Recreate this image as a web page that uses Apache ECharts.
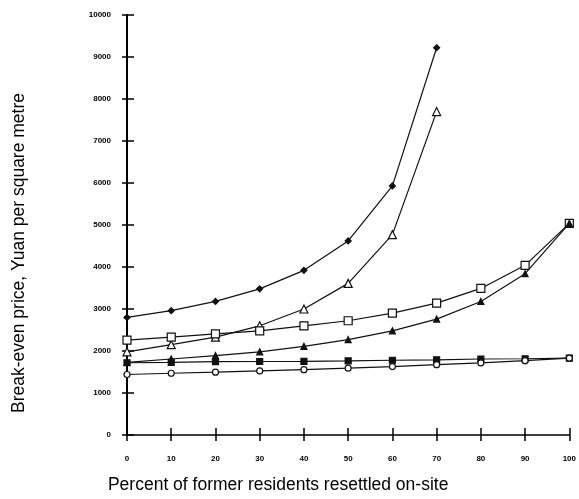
<!DOCTYPE html>
<html>
<head>
<meta charset="utf-8">
<script src="https://cdn.jsdelivr.net/npm/echarts@6/dist/echarts.min.js"></script>
<style>
  html, body { margin: 0; padding: 0; background: #fff; }
  #main { width: 579px; height: 499px; }
</style>
</head>
<body>
<div id="main"></div>
<script>
// percent resettled on-site
var percents = [0, 10, 20, 30, 40, 50, 60, 70, 80, 90, 100];

// break-even price, yuan per m2
var filledDiamond = [2800, 2960, 3180, 3480, 3920, 4620, 5930, 9220];
var openTriangle = [1980, 2150, 2330, 2600, 3000, 3610, 4770, 7700];
var openSquare = [2260, 2330, 2410, 2480, 2600, 2720, 2900, 3140, 3490, 4040, 5040];
var filledTriangle = [1730, 1810, 1890, 1980, 2110, 2270, 2480, 2760, 3180, 3840, 5040];
var filledSquare = [1720, 1730, 1745, 1750, 1755, 1765, 1780, 1790, 1810, 1815, 1830];
var openCircle = [1440, 1470, 1495, 1525, 1555, 1590, 1630, 1675, 1715, 1770, 1830];

var font = 'Liberation Sans';

function pairs(vals) {
    var out = [];
    for (var i = 0; i < vals.length; i++) {
        out.push([percents[i], vals[i]]);
    }
    return out;
}

function line(data, symbol, size, filled) {
    return {
        type: 'line',
        data: pairs(data),
        symbol: symbol,
        symbolSize: size,
        showSymbol: true,
        xAxisIndex: 0,
        yAxisIndex: 0,
        lineStyle: { color: '#111', width: 1.2 },
        itemStyle: {
            color: filled ? '#111' : '#fff',
            borderColor: '#111',
            borderWidth: 1.2
        },
        emphasis: { disabled: true },
        z: 3
    };
}

var tickLabel = {
    fontFamily: font, fontSize: 8, fontWeight: 'bold', color: '#000',
    formatter: function (v) { return String(v); }
};

var option = {
    animation: false,
    backgroundColor: '#fff',
    grid: { left: 127, right: 9, top: 15, bottom: 62 },
    xAxis: [
        {
            type: 'value', min: 0, max: 100, interval: 10,
            axisLine: { lineStyle: { color: '#000', width: 1.5 } },
            axisTick: { length: 6, lineStyle: { color: '#000', width: 1.5 } },
            axisLabel: Object.assign({ margin: 20 }, tickLabel),
            splitLine: { show: false },
            name: 'Percent of former residents resettled on-site',
            nameLocation: 'middle',
            nameGap: 41,
            nameTextStyle: { fontFamily: font, fontSize: 17.5, color: '#000', padding: [0, 140, 0, 0] }
        },
        {
            type: 'value', min: 0, max: 100, interval: 10, position: 'bottom',
            axisLine: { show: false },
            axisTick: { inside: true, length: 7, lineStyle: { color: '#000', width: 1.5 } },
            axisLabel: { show: false },
            splitLine: { show: false }
        }
    ],
    yAxis: [
        {
            type: 'value', min: 0, max: 10000, interval: 1000,
            axisLine: { show: true, lineStyle: { color: '#000', width: 2 } },
            axisTick: { show: true, length: 5, lineStyle: { color: '#000', width: 1.5 } },
            axisLabel: Object.assign({ margin: 16 }, tickLabel),
            splitLine: { show: false },
            name: 'Break-even price, Yuan per square metre',
            nameLocation: 'middle',
            nameGap: 99,
            nameTextStyle: { fontFamily: font, fontSize: 17.5, color: '#000', padding: [0, 56, 0, 0] }
        },
        {
            type: 'value', min: 0, max: 10000, interval: 1000, position: 'left',
            axisLine: { show: false },
            axisTick: { show: true, inside: true, length: 7, lineStyle: { color: '#000', width: 1.5 } },
            axisLabel: { show: false },
            splitLine: { show: false }
        }
    ],
    series: [
        line(filledDiamond, 'diamond', 6, true),
        line(openTriangle, 'triangle', 8, false),
        line(openSquare, 'rect', 8, false),
        line(filledTriangle, 'triangle', 6, true),
        line(filledSquare, 'rect', 6, true),
        line(openCircle, 'circle', 6, false)
    ]
};

var myChart = echarts.init(document.getElementById('main'), null, { renderer: 'canvas' });
myChart.setOption(option);
</script>
</body>
</html>
